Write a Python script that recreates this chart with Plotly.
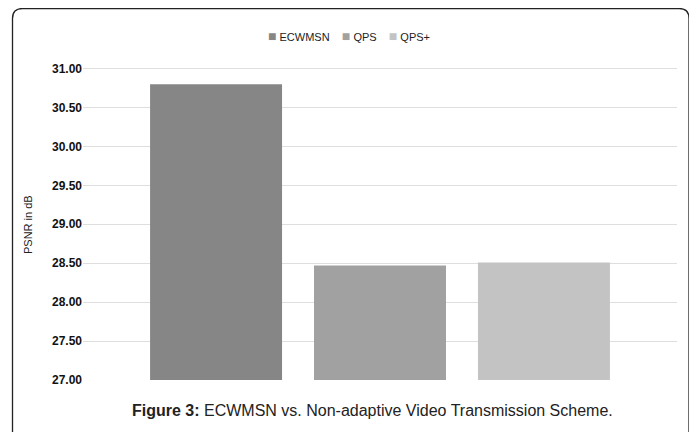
import plotly.graph_objects as go

series = ["ECWMSN", "QPS", "QPS+"]
values = [30.80, 28.47, 28.51]
colors = ["#868686", "#a1a1a1", "#c3c3c3"]
category = ["PSNR"]
y_ticks = [27.0, 27.5, 28.0, 28.5, 29.0, 29.5, 30.0, 30.5, 31.0]

# page has an 8px body margin; work in reference pixel coords and shift
OFF = 8
W, H = 697 - OFF, 432 - OFF
ml, mr, mt, mb = 83 - OFF, 20, 67 - OFF, 52
pw, ph = W - ml - mr, H - mt - mb

def px(x):
    return (x - OFF - ml) / pw

def py(y):
    return (H - mb - (y - OFF)) / ph

fig = go.Figure()
for name, v, c in zip(series, values, colors):
    fig.add_trace(go.Bar(
        x=category, y=[v - y_ticks[0]], base=y_ticks[0], name=name,
        marker=dict(color=c, line=dict(width=0)),
    ))

# rounded border frame
x0, x1, y0, y1 = px(12.5), px(689), py(8.5), py(450)
rx, ry = 10 / pw, 10 / ph
path = (f"M {x0},{y1} L {x0},{y0 - ry} Q {x0},{y0} {x0 + rx},{y0} "
        f"L {x1 - rx},{y0} Q {x1},{y0} {x1},{y0 - ry} L {x1},{y1}")

legend_text = "&nbsp;&nbsp;&nbsp;&nbsp;".join(
    f"<span style='color:{c};font-size:14px'>■</span> {n}" for n, c in zip(series, colors))

fig.update_layout(
    width=W, height=H,
    margin=dict(l=ml, r=mr, t=mt, b=mb, autoexpand=False),
    paper_bgcolor="white", plot_bgcolor="white",
    barmode="group", bargap=0.172, bargroupgap=0.195,
    showlegend=False,
    font=dict(family="Liberation Sans, Arial"),
    xaxis=dict(showticklabels=False, showgrid=False, zeroline=False, showline=False,
               automargin=False),
    yaxis=dict(range=[27, 31.02], tickvals=y_ticks,
               ticktext=[f"<b>{t:.2f}</b>" for t in y_ticks],
               tickfont=dict(size=12, color="#111"),
               showgrid=True, gridcolor="#dedede", gridwidth=1,
               zeroline=False, showline=False, ticks="", ticklen=0,
               automargin=False),
    shapes=[dict(type="path", path=path, xref="paper", yref="paper",
                 line=dict(color="#222", width=1.3))],
    annotations=[
        dict(text="<b>Figure 3:</b> ECWMSN vs. Non-adaptive Video Transmission Scheme.",
             xref="paper", yref="paper", x=px(372), y=py(410),
             xanchor="center", yanchor="middle", showarrow=False,
             font=dict(size=16, color="#222", family="Liberation Sans, Arial")),
        dict(text="PSNR in dB", textangle=-90,
             xref="paper", yref="paper", x=px(28), y=py(225),
             xanchor="center", yanchor="middle", showarrow=False,
             font=dict(size=11, color="#222", family="Liberation Sans, Arial")),
        dict(text=legend_text,
             xref="paper", yref="paper", x=px(349), y=py(36),
             xanchor="center", yanchor="middle", showarrow=False,
             font=dict(size=11, color="#222", family="Liberation Sans, Arial")),
    ],
)

fig.write_html("out.html")
